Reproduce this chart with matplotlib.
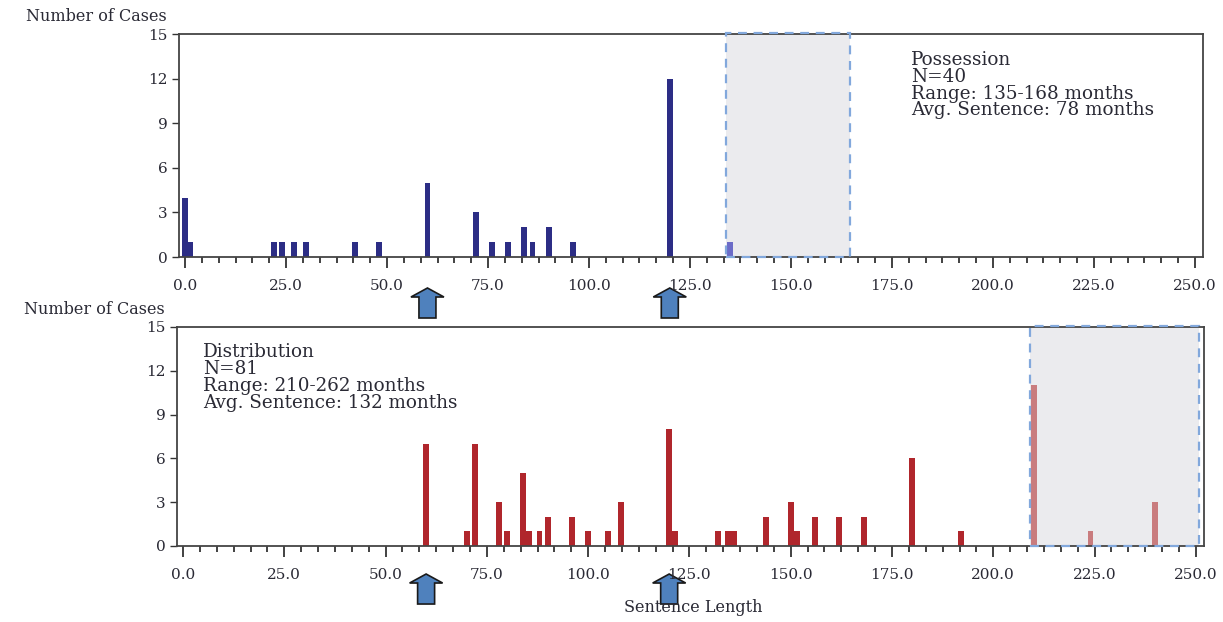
"""Sentence length distributions: possession vs distribution cases."""

import matplotlib
matplotlib.use("Agg")
import matplotlib.pyplot as plt
import matplotlib.transforms as mtransforms
from matplotlib.patches import Polygon, Rectangle
from matplotlib.ticker import MultipleLocator

# ── data ───────────────────────────────────────────────────────────────────
POSS_MONTHS = [0, 1.3, 22, 24, 27, 30, 42, 48, 60, 72, 76, 80, 84, 86, 90, 96, 120, 135]
POSS_COUNTS = [4, 1, 1, 1, 1, 1, 1, 1, 5, 3, 1, 1, 2, 1, 2, 1, 12, 1]
POSS_SPAN = (134, 164.5)
POSS_TEXT = ["Possession", "N=40", "Range: 135-168 months", "Avg. Sentence: 78 months"]

DIST_MONTHS = [60, 70, 72, 78, 80, 84, 85.5, 88, 90, 96, 100, 105, 108, 120, 121.5,
               132, 134.5, 136, 144, 150, 151.5, 156, 162, 168, 180, 192, 210, 224, 240]
DIST_COUNTS = [7, 1, 7, 3, 1, 5, 1, 1, 2, 2, 1, 1, 3, 8, 1,
               1, 1, 1, 2, 3, 1, 2, 2, 2, 6, 1, 11, 1, 3]
DIST_SPAN = (209, 250.7)
DIST_TEXT = ["Distribution", "N=81", "Range: 210-262 months", "Avg. Sentence: 132 months"]

ARROW_AT = [60, 120]
Y_TICKS = [0, 3, 6, 9, 12, 15]
X_TICKS = [0, 25, 50, 75, 100, 125, 150, 175, 200, 225, 250]

NAVY, NAVY_LIGHT = "#2c2d85", "#6c6cc8"
RED, RED_LIGHT = "#b0262c", "#c97c7e"
SPAN_FILL, SPAN_EDGE = "#ebebee", "#82a8dc"
ARROW_FILL = "#4f81bd"
TXT = "#2a2a35"

plt.rcParams["font.family"] = ["DejaVu Serif"]

fig = plt.figure(figsize=(12.23, 6.22), dpi=100)
ax_top = fig.add_axes([0.1464, 0.5868, 0.8372, 0.3585])
ax_bot = fig.add_axes([0.1447, 0.1222, 0.8397, 0.3521])


def draw_panel(ax, months, counts, span, color, light, lines, text_xy, arrow_y):
    # shaded range box: fill behind the bars, dashed outline over the spines
    ax.add_patch(Rectangle((span[0], 0), span[1] - span[0], 15, fc=SPAN_FILL,
                           ec="none", zorder=1))
    ax.add_patch(Rectangle((span[0], 0.02), span[1] - span[0], 15.05, fc="none",
                           ec=SPAN_EDGE, lw=1.6, ls=(0, (4, 3)), zorder=3,
                           clip_on=False))
    cols = [light if span[0] <= m <= span[1] else color for m in months]
    ax.bar(months, counts, width=1.45, color=cols, zorder=2, linewidth=0)

    ax.set_xlim(-1.5, 252)
    ax.set_ylim(0, 15)
    ax.set_yticks(Y_TICKS)
    ax.set_xticks(X_TICKS)
    ax.set_xticklabels([f"{v:.1f}" for v in X_TICKS])
    ax.xaxis.set_minor_locator(MultipleLocator(25 / 6))
    ax.tick_params(axis="x", which="major", length=8, width=1.3, pad=8,
                   labelsize=11, colors="#333", labelcolor=TXT)
    ax.tick_params(axis="x", which="minor", length=4, width=1.3, colors="#333")
    ax.tick_params(axis="y", length=5, width=1.0, pad=3, labelsize=11,
                   colors="#333", labelcolor=TXT)
    for s in ax.spines.values():
        s.set_color("#444")
        s.set_linewidth(1.3)

    ax.text(text_xy[0], text_xy[1], "\n".join(lines), transform=ax.transAxes,
            ha="left", va="top", fontsize=13.2, linespacing=0.92, color=TXT)
    ax.text(-0.0117, 1.058, "Number of Cases", transform=ax.transAxes,
            ha="right", va="baseline", fontsize=11.5, color=TXT)

    # block arrows under the 60 / 120 month marks (shape in pixels)
    verts = [(0, 0), (16.5, -9), (8.5, -9), (8.5, -30), (-8.5, -30), (-8.5, -9), (-16.5, -9)]
    for xm in ARROW_AT:
        tr = (mtransforms.Affine2D().scale(1 / fig.dpi) + fig.dpi_scale_trans
              + mtransforms.ScaledTranslation(xm, arrow_y, ax.get_xaxis_transform()))
        ax.add_patch(Polygon(verts, closed=True, transform=tr, clip_on=False,
                             fc=ARROW_FILL, ec="#1a1a1a", lw=1.2))


draw_panel(ax_top, POSS_MONTHS, POSS_COUNTS, POSS_SPAN, NAVY, NAVY_LIGHT,
           POSS_TEXT, (0.7145, 0.925), -0.139)
draw_panel(ax_bot, DIST_MONTHS, DIST_COUNTS, DIST_SPAN, RED, RED_LIGHT,
           DIST_TEXT, (0.0255, 0.925), -0.128)

fig.text(693 / 1223, 1 - 607 / 622, "Sentence Length", ha="center", va="center",
         fontsize=11.5, color=TXT)

fig.savefig("out.png", dpi=100)
